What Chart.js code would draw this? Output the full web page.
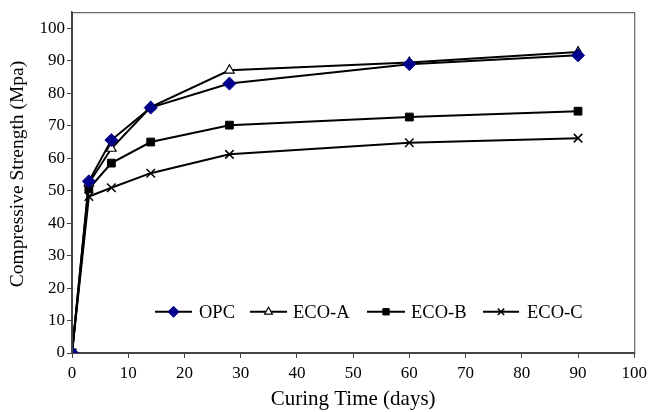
<!DOCTYPE html>
<html lang="en">
<head>
    <meta charset="UTF-8">
    <title>Compressive Strength</title>
    <script src="https://cdn.jsdelivr.net/npm/chart.js"></script>
    <style>
        body {
            margin: 0;
            background: #fff;
        }

        .chart-container {
            position: relative;
            width: 652px;
            height: 412px;
        }
    </style>
</head>
<body>
    <div class="chart-container">
        <canvas id="strength-chart" width="652" height="412"></canvas>
    </div>

    <script>
        // curing time (days) and compressive strength (MPa)
        const days = [0, 3, 7, 14, 28, 60, 90];
        const opc = [0, 52.9, 65.6, 75.6, 83.0, 89.0, 91.7];
        const ecoA = [0, 52.3, 63.0, 75.8, 87.1, 89.5, 92.7];
        const ecoB = [0, 50.6, 58.5, 65.0, 70.2, 72.7, 74.5];
        const ecoC = [0, 48.2, 50.9, 55.4, 61.2, 64.8, 66.2];
        const xTicks = [0, 10, 20, 30, 40, 50, 60, 70, 80, 90, 100];
        const yTicks = [0, 10, 20, 30, 40, 50, 60, 70, 80, 90, 100];
        const yTitle = 'Compressive Strength (Mpa)';
        const xTitle = 'Curing Time (days)';

        const serif = '"Liberation Serif", "Times New Roman", serif';
        const axisColor = '#444';

        const toPoints = values => values.map((v, i) => ({ x: days[i], y: v }));

        // frame around the plot area
        const frame = {
            id: 'frame',
            afterDatasetsDraw(chart) {
                const { ctx, chartArea: a } = chart;
                ctx.save();
                ctx.strokeStyle = axisColor;
                ctx.lineWidth = 1;
                ctx.strokeRect(a.left + 0.5, a.top + 0.5, a.right - a.left, a.bottom - a.top);
                ctx.restore();
            }
        };

        // y title sits a little above the middle of the axis in the original
        const sideTitle = {
            id: 'sideTitle',
            afterDraw(chart) {
                const { ctx } = chart;
                ctx.save();
                ctx.translate(18, 174);
                ctx.rotate(-Math.PI / 2);
                ctx.font = '19.5px ' + serif;
                ctx.fillStyle = '#000';
                ctx.textAlign = 'center';
                ctx.textBaseline = 'middle';
                ctx.fillText(yTitle, 0, 0);
                ctx.restore();
            }
        };

        // legend drawn inside the plot area, like the original
        const innerLegend = {
            id: 'innerLegend',
            afterDatasetsDraw(chart) {
                const { ctx } = chart;
                const y = chart.scales.y.getPixelForValue(12.7);
                const lineFrom = [155, 250, 367, 483];
                const lineTo = [192, 287, 405, 519];
                const textAt = [199, 293, 411, 527];
                const sizes = [5.5, 4.5, 4.5, 4.5];
                ctx.save();
                ctx.font = '18.5px ' + serif;
                ctx.textBaseline = 'middle';
                chart.data.datasets.forEach((ds, i) => {
                    const mid = (lineFrom[i] + lineTo[i]) / 2;
                    ctx.strokeStyle = '#000';
                    ctx.lineWidth = 2;
                    ctx.beginPath();
                    ctx.moveTo(lineFrom[i], y);
                    ctx.lineTo(lineTo[i], y);
                    ctx.stroke();
                    ctx.fillStyle = ds.pointBackgroundColor;
                    ctx.strokeStyle = ds.pointBorderColor;
                    ctx.lineWidth = ds.pointBorderWidth;
                    Chart.helpers.drawPoint(ctx, {
                        pointStyle: ds.pointStyle,
                        radius: sizes[i],
                        rotation: 0,
                        borderWidth: ds.pointBorderWidth
                    }, mid, y);
                    ctx.fillStyle = '#000';
                    ctx.fillText(ds.label, textAt[i], y + 1);
                });
                ctx.restore();
            }
        };

        const ctx = document.getElementById('strength-chart').getContext('2d');

        new Chart(ctx, {
            type: 'scatter',
            data: {
                datasets: [
                    {
                        label: 'OPC',
                        data: toPoints(opc),
                        showLine: true,
                        borderColor: '#000',
                        borderWidth: 2,
                        pointStyle: 'rectRot',
                        pointRadius: 6.5,
                        pointBackgroundColor: '#00008b',
                        pointBorderColor: '#00008b',
                        pointBorderWidth: 1
                    },
                    {
                        label: 'ECO-A',
                        data: toPoints(ecoA),
                        showLine: true,
                        borderColor: '#000',
                        borderWidth: 2,
                        pointStyle: 'triangle',
                        pointRadius: 5.5,
                        pointBackgroundColor: '#fff',
                        pointBorderColor: '#000',
                        pointBorderWidth: 1.2
                    },
                    {
                        label: 'ECO-B',
                        data: toPoints(ecoB),
                        showLine: true,
                        borderColor: '#000',
                        borderWidth: 2,
                        pointStyle: 'rect',
                        pointRadius: 5.5,
                        pointBackgroundColor: '#000',
                        pointBorderColor: '#000',
                        pointBorderWidth: 1
                    },
                    {
                        label: 'ECO-C',
                        data: toPoints(ecoC),
                        showLine: true,
                        borderColor: '#000',
                        borderWidth: 2,
                        pointStyle: 'crossRot',
                        pointRadius: 6,
                        pointBackgroundColor: '#000',
                        pointBorderColor: '#000',
                        pointBorderWidth: 1.5
                    }
                ]
            },
            options: {
                responsive: false,
                animation: false,
                layout: {
                    padding: { top: 12, right: 16, left: 0, bottom: 0 }
                },
                plugins: {
                    legend: { display: false },
                    tooltip: { enabled: false }
                },
                scales: {
                    x: {
                        type: 'linear',
                        min: 0,
                        max: 100,
                        afterBuildTicks: scale => {
                            scale.ticks = xTicks.map(v => ({ value: v }));
                        },
                        afterFit: scale => {
                            scale.height = 59;
                        },
                        grid: {
                            drawOnChartArea: false,
                            drawTicks: true,
                            tickLength: 5,
                            color: axisColor
                        },
                        border: { color: axisColor, width: 1.5 },
                        ticks: {
                            color: '#000',
                            padding: 5,
                            maxRotation: 0,
                            autoSkip: false,
                            font: { family: serif, size: 17 }
                        },
                        title: {
                            display: true,
                            text: xTitle,
                            color: '#000',
                            padding: { top: 0, bottom: 0 },
                            font: { family: serif, size: 21 }
                        }
                    },
                    y: {
                        min: 0,
                        max: 105,
                        afterBuildTicks: scale => {
                            scale.ticks = yTicks.map(v => ({ value: v }));
                        },
                        afterFit: scale => {
                            scale.width = 72;
                        },
                        grid: {
                            drawOnChartArea: false,
                            drawTicks: true,
                            tickLength: 5,
                            color: axisColor
                        },
                        border: { color: axisColor, width: 1.5 },
                        ticks: {
                            color: '#000',
                            padding: 2,
                            autoSkip: false,
                            font: { family: serif, size: 17 }
                        }
                    }
                }
            },
            plugins: [frame, sideTitle, innerLegend]
        });
    </script>
</body>
</html>
